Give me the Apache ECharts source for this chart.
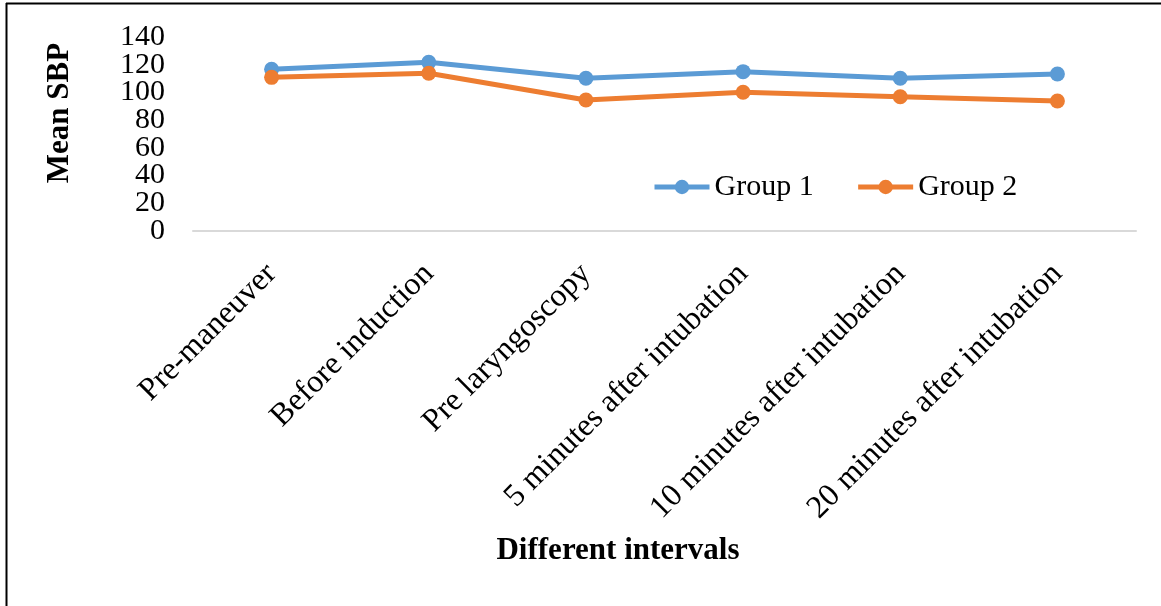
<!DOCTYPE html>
<html>
<head>
<meta charset="utf-8">
<title>Mean SBP at different intervals</title>
<script src="https://cdn.jsdelivr.net/npm/echarts@6/dist/echarts.min.js"></script>
<style>
  html, body { margin: 0; padding: 0; background: #ffffff; }
  #chart { width: 1161px; height: 606px; }
</style>
</head>
<body>
<div id="chart"></div>
<script>
// Measurement intervals along the x axis
const categories = [
  'Pre-maneuver',
  'Before induction',
  'Pre laryngoscopy',
  '5 minutes after intubation',
  '10 minutes after intubation',
  '20 minutes after intubation'
];

// Mean systolic blood pressure per group
const group1 = [116.7, 121.7, 110.2, 115.0, 110.2, 113.3];
const group2 = [110.9, 113.8, 94.5, 100.1, 96.9, 93.8];

// Value axis range and its tick labels
const yMin = 0;
const yMax = 140;
const yTicks = [0, 20, 40, 60, 80, 100, 120, 140];

const serif = '"Liberation Serif", "Times New Roman", serif';
const blue = '#5B9BD5';
const orange = '#ED7D31';

const chart = echarts.init(document.getElementById('chart'), null, { renderer: 'canvas' });

function lineSeries(name, data, color) {
  return {
    name: name,
    type: 'line',
    data: data,
    yAxisIndex: 0,
    symbol: 'circle',
    symbolSize: 15,
    lineStyle: { color: color, width: 5 },
    itemStyle: { color: color },
    emphasis: { disabled: true },
    animation: false
  };
}

// The tick labels sit closer together than their font height, so they are
// split over two overlaid value axes to keep every one of them visible.
function valueAxis(values) {
  return {
    type: 'value',
    position: 'left',
    offset: 0,
    min: yMin,
    max: yMax,
    axisLine: { show: false },
    axisTick: { show: false },
    splitLine: { show: false },
    axisLabel: {
      margin: 28,
      customValues: values,
      fontFamily: serif,
      fontSize: 30,
      color: '#000000'
    }
  };
}

chart.setOption({
  backgroundColor: '#ffffff',
  animation: false,
  grid: { left: 193, right: 25, top: 37, bottom: 375, containLabel: false },
  legend: {
    left: 652,
    top: 172,
    padding: 0,
    itemWidth: 55,
    itemHeight: 18,
    itemGap: 42,
    lineStyle: { width: 5 },
    textStyle: { fontFamily: serif, fontSize: 30, color: '#000000' },
    data: ['Group 1', 'Group 2']
  },
  xAxis: {
    type: 'category',
    data: categories,
    boundaryGap: true,
    axisLine: { show: true, lineStyle: { color: '#d9d9d9', width: 2 } },
    axisTick: { show: false },
    axisLabel: {
      interval: 0,
      rotate: 45,
      margin: 38,
      fontFamily: serif,
      fontSize: 32,
      color: '#000000'
    }
  },
  yAxis: [
    valueAxis(yTicks.filter((v, i) => i % 2 === 0)),
    valueAxis(yTicks.filter((v, i) => i % 2 === 1))
  ],
  graphic: [
    // page frame
    { type: 'line', shape: { x1: 6, y1: 3.5, x2: 1161, y2: 3.5 }, style: { stroke: '#000000', lineWidth: 2 } },
    { type: 'line', shape: { x1: 6.5, y1: 3, x2: 6.5, y2: 606 }, style: { stroke: '#000000', lineWidth: 2 } },
    // axis titles
    {
      type: 'text',
      x: 60, y: 113,
      rotation: Math.PI / 2,
      style: {
        text: 'Mean SBP',
        font: 'bold 31px ' + serif,
        fill: '#000000',
        textAlign: 'center',
        textVerticalAlign: 'middle'
      }
    },
    {
      type: 'text',
      x: 618, y: 551,
      style: {
        text: 'Different intervals',
        font: 'bold 31px ' + serif,
        fill: '#000000',
        textAlign: 'center',
        textVerticalAlign: 'middle'
      }
    }
  ],
  series: [
    lineSeries('Group 1', group1, blue),
    lineSeries('Group 2', group2, orange)
  ]
});
</script>
</body>
</html>
